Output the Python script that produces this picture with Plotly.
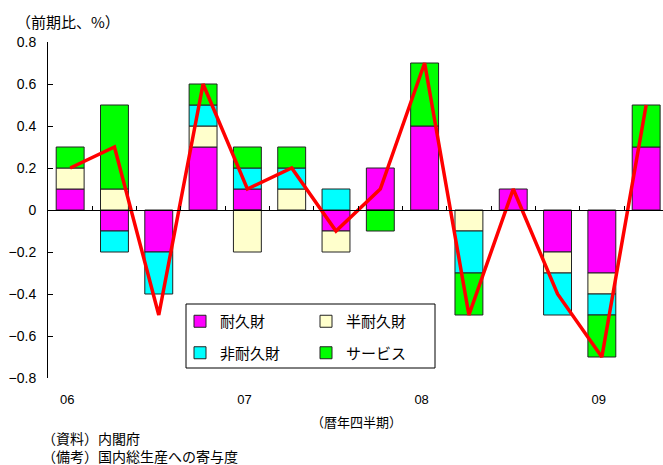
import plotly.graph_objects as go

# Quarterly contributions to private consumption growth (q/q, %), 2006 Q1 - 2009 Q2
quarters = ["06Q1", "06Q2", "06Q3", "06Q4", "07Q1", "07Q2", "07Q3", "07Q4",
            "08Q1", "08Q2", "08Q3", "08Q4", "09Q1", "09Q2"]
durable = [0.1, -0.1, -0.2, 0.3, 0.1, 0.0, -0.1, 0.2, 0.4, 0.0, 0.1, -0.2, -0.3, 0.3]
semi_durable = [0.1, 0.1, 0.0, 0.1, -0.2, 0.1, -0.1, 0.0, 0.0, -0.1, 0.0, -0.1, -0.1, 0.0]
non_durable = [0.0, -0.1, -0.2, 0.1, 0.1, 0.1, 0.1, 0.0, 0.0, -0.2, 0.0, -0.2, -0.1, 0.0]
services = [0.1, 0.4, 0.0, 0.1, 0.1, 0.1, 0.0, -0.1, 0.3, -0.2, 0.0, 0.0, -0.2, 0.2]
total = [0.2, 0.3, -0.5, 0.6, 0.1, 0.2, -0.1, 0.1, 0.7, -0.5, 0.1, -0.4, -0.7, 0.5]

year_tick_pos = [0, 4, 8, 12]
year_tick_text = ["06", "07", "08", "09"]
y_ticks = [0.8, 0.6, 0.4, 0.2, 0.0, -0.2, -0.4, -0.6, -0.8]
y_tick_text = ["0.8", "0.6", "0.4", "0.2", "0", "\u22120.2", "\u22120.4", "\u22120.6", "\u22120.8"]

FONT = "Liberation Sans, Noto Sans CJK JP, sans-serif"
JP = "Noto Sans CJK JP"

# plot-area geometry in pixels (used to place paper-referenced items)
L, R, T, B = 48, 663, 42, 378
def px(xp):
    return (xp - L) / (R - L)
def py(yp):
    return (B - yp) / (B - T)

x = list(range(len(quarters)))

# (name, values, colour, legend column)
series = [
    ("耐久財", durable, "#FF00FF", "legend"),
    ("半耐久財", semi_durable, "#FFFFCC", "legend2"),
    ("非耐久財", non_durable, "#00FFFF", "legend"),
    ("サービス", services, "#00FF00", "legend2"),
]

fig = go.Figure()
for name, vals, color, leg in series:
    # zero contributions are left empty so no hairline outline is drawn
    fig.add_trace(go.Bar(
        x=x, y=[v if v != 0 else None for v in vals],
        name=name, legend=leg, legendgroup=name,
        marker=dict(color=color, line=dict(color="#222222", width=1)),
        hoverinfo="skip",
    ))

fig.add_trace(go.Scatter(
    x=x, y=total, mode="lines", name="合計", showlegend=False,
    line=dict(color="#FF0000", width=3.5),
))

# Tick marks between quarters along the zero line
boundaries = [i + 0.5 for i in range(len(quarters) - 1)]
fig.add_trace(go.Scatter(x=[0], y=[None], xaxis="x2", showlegend=False, hoverinfo="skip"))

legend_common = dict(
    orientation="v", xanchor="left", yanchor="top",
    bgcolor="rgba(0,0,0,0)", borderwidth=0,
    font=dict(family=JP, size=15), itemclick=False, itemdoubleclick=False,
    tracegroupgap=9, traceorder="grouped",
)

fig.update_layout(
    width=663, height=465,
    margin=dict(l=L, r=663 - R, t=T, b=465 - B, autoexpand=False),
    paper_bgcolor="white", plot_bgcolor="white",
    barmode="relative", bargap=0.37,
    font=dict(family=FONT, size=13, color="black"),
    xaxis=dict(
        range=[-0.5, 13.38], tickmode="array",
        tickvals=year_tick_pos, ticktext=year_tick_text,
        showline=False, ticks="", showgrid=False, zeroline=False,
        ticklabelstandoff=12, ticklabelshift=-3, tickfont=dict(size=13),
    ),
    xaxis2=dict(
        overlaying="x", anchor="free", position=0.5, side="bottom",
        range=[-0.5, 13.38], tickmode="array", tickvals=boundaries,
        showticklabels=False, ticks="inside", ticklen=4, tickcolor="black",
        showline=True, linecolor="black", linewidth=1,
        showgrid=False, zeroline=False,
    ),
    yaxis=dict(
        range=[-0.8, 0.8], tickmode="array", tickvals=y_ticks, ticktext=y_tick_text,
        showline=True, linecolor="black", linewidth=1,
        ticks="inside", ticklen=5, tickcolor="black",
        showgrid=False, zeroline=False,
        ticklabelstandoff=8, tickfont=dict(size=14),
    ),
    legend=dict(x=px(180), y=py(305), **legend_common),
    legend2=dict(x=px(306), y=py(305), **legend_common),
    showlegend=True,
)

# Frame around the two legend columns
fig.add_shape(type="rect", xref="paper", yref="paper",
              x0=px(186), x1=px(435), y0=py(368), y1=py(304),
              line=dict(color="black", width=1), fillcolor="rgba(0,0,0,0)", layer="above")

fig.add_annotation(text="（前期比、%）", xref="paper", yref="paper",
                   x=px(14), y=py(21), xanchor="left", yanchor="middle",
                   showarrow=False, font=dict(family=JP, size=15))
fig.add_annotation(text="（暦年四半期）", xref="paper", yref="paper",
                   x=px(356), y=py(421), xanchor="center", yanchor="middle",
                   showarrow=False, font=dict(family=JP, size=13))
fig.add_annotation(text="（資料）内閣府<br>（備考）国内総生産への寄与度",
                   xref="paper", yref="paper", align="left",
                   x=px(40), y=py(447), xanchor="left", yanchor="middle",
                   showarrow=False, font=dict(family=JP, size=14))

fig.write_html("out.html")
